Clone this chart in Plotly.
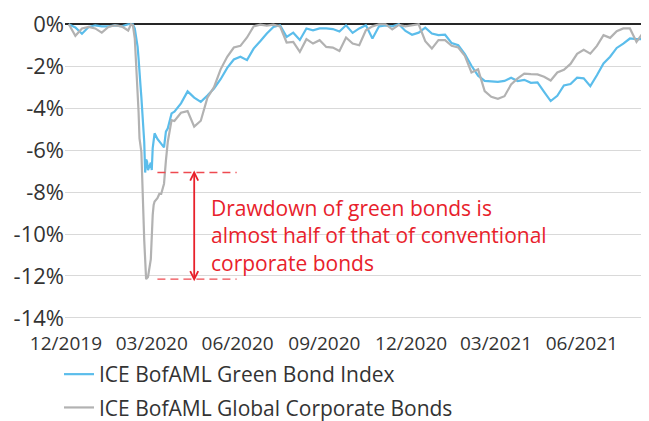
import plotly.graph_objects as go

# ---------------- data ----------------
dates = [
    "2020-01-03", "2020-01-10", "2020-01-17", "2020-01-24", "2020-01-31", "2020-02-07",
    "2020-02-14", "2020-02-21", "2020-02-28", "2020-03-06", "2020-03-09", "2020-03-11",
    "2020-03-13", "2020-03-16", "2020-03-17", "2020-03-18", "2020-03-19", "2020-03-20",
    "2020-03-23", "2020-03-24", "2020-03-25", "2020-03-26", "2020-03-27", "2020-03-30",
    "2020-03-31", "2020-04-01", "2020-04-02", "2020-04-03", "2020-04-06", "2020-04-08",
    "2020-04-10", "2020-04-13", "2020-04-15", "2020-04-17", "2020-04-21", "2020-04-24",
    "2020-05-01", "2020-05-08", "2020-05-15", "2020-05-22", "2020-05-29", "2020-06-05",
    "2020-06-12", "2020-06-19", "2020-06-26", "2020-07-03", "2020-07-10", "2020-07-17",
    "2020-07-24", "2020-07-31", "2020-08-07", "2020-08-14", "2020-08-21", "2020-08-28",
    "2020-09-04", "2020-09-11", "2020-09-18", "2020-09-25", "2020-10-02", "2020-10-09",
    "2020-10-16", "2020-10-23", "2020-10-30", "2020-11-06", "2020-11-13", "2020-11-20",
    "2020-11-27", "2020-12-04", "2020-12-11", "2020-12-18", "2020-12-25", "2021-01-01",
    "2021-01-08", "2021-01-15", "2021-01-22", "2021-01-29", "2021-02-05", "2021-02-12",
    "2021-02-19", "2021-02-26", "2021-03-05", "2021-03-12", "2021-03-19", "2021-03-26",
    "2021-04-02", "2021-04-09", "2021-04-16", "2021-04-23", "2021-04-30", "2021-05-07",
    "2021-05-14", "2021-05-21", "2021-05-28", "2021-06-04", "2021-06-11", "2021-06-18",
    "2021-06-25", "2021-07-02", "2021-07-09", "2021-07-16", "2021-07-23", "2021-07-30",
    "2021-08-06", "2021-08-13", "2021-08-20", "2021-08-27", "2021-09-03",
]

green_bond = [
    0.0, -0.15, -0.45, -0.13, -0.05, -0.1,
    -0.1, -0.05, -0.1, 0.0, 0.0, 0.0,
    -0.2, -1.08, -1.63, -2.1, -2.9, -3.5,
    -5.6, -7.07, -6.45, -6.55, -6.95, -6.6,
    -6.95, -5.9, -5.42, -5.2, -5.47, -5.57,
    -5.68, -5.87, -5.12, -4.96, -4.25, -4.17,
    -3.77, -3.2, -3.5, -3.7, -3.4, -3.06,
    -2.62, -2.08, -1.68, -1.55, -1.71, -1.16,
    -0.81, -0.44, -0.13, -0.05, -0.6, -0.4,
    -0.75, -0.2, -0.29, -0.2, -0.2, -0.23,
    -0.35, -0.05, -0.41, -0.2, -0.05, -0.68,
    -0.1, -0.06, -0.1, 0.0, -0.32, -0.5,
    -0.4, -0.16, -0.44, -0.52, -0.5, -0.9,
    -1.0, -1.42, -1.98, -2.45, -2.7, -2.74,
    -2.75, -2.7, -2.55, -2.71, -2.65, -2.79,
    -2.77, -3.22, -3.66, -3.41, -2.92, -2.85,
    -2.55, -2.58, -2.95, -2.43, -1.87, -1.55,
    -1.13, -0.92, -0.68, -0.71, -0.71,
]

global_corp = [
    0.0, -0.55, -0.2, -0.13, -0.2, -0.4,
    -0.13, -0.05, -0.1, -0.3, 0.0, -0.05,
    -0.68, -3.1, -4.17, -5.44, -5.92, -6.1,
    -10.28, -11.55, -12.15, -12.1, -12.05, -11.2,
    -9.95, -9.09, -8.61, -8.45, -8.29, -8.09,
    -8.09, -7.6, -6.5, -5.6, -4.57, -4.61,
    -4.22, -4.14, -4.88, -4.6, -3.5, -3.0,
    -2.15, -1.55, -1.11, -1.03, -0.63, -0.1,
    -0.02, -0.07, -0.02, -0.1, -0.87, -0.84,
    -1.32, -0.71, -0.92, -0.76, -1.08, -1.11,
    -1.27, -0.63, -0.92, -1.0, -0.29, -0.1,
    0.0, 0.0, -0.25, -0.03, -0.1, -0.05,
    0.0, -0.81, -1.16, -0.76, -0.76, -1.03,
    -1.11, -1.51, -2.3, -2.15, -3.19, -3.46,
    -3.55, -3.43, -2.87, -2.58, -2.35, -2.38,
    -2.39, -2.5, -2.68, -2.3, -2.17, -1.89,
    -1.41, -1.22, -1.4, -1.03, -0.52, -0.65,
    -0.33, -0.2, -0.2, -0.84, -0.4,
]

series_names = ["ICE BofAML Green Bond Index", "ICE BofAML Global Corporate Bonds"]

x_tick_vals = ["2019-12-31", "2020-03-31", "2020-06-30", "2020-09-30",
               "2020-12-31", "2021-03-31", "2021-06-30"]
x_tick_text = ["12/2019", "03/2020", "06/2020", "09/2020", "12/2020", "03/2021", "06/2021"]
y_tick_vals = [0, -2, -4, -6, -8, -10, -12, -14]
y_tick_text = ["0%", "-2%", "-4%", "-6%", "-8%", "-10%", "-12%", "-14%"]

annotation_text = ("Drawdown of green bonds is<br>almost half of that of conventional"
                   "<br>corporate bonds")
arrow_date = "2020-05-15"
dash_start, dash_end = "2020-04-06", "2020-06-29"
green_min = min(green_bond)
corp_min = min(global_corp)

# ---------------- style ----------------
BLUE = "#5BBDEB"
GREY = "#B2B2B2"
RED = "#E8212B"
RED_LIGHT = "#EE4A50"
TXT = "#333333"
FONT = "Open Sans"

# the page body adds an 8px offset, so the figure is 8px smaller than the window
W, H = 641, 413
ML, MR, MT, MB = 57, 4, 11, 102
PW, PH = W - ML - MR, H - MT - MB

fig = go.Figure()
fig.add_trace(go.Scatter(x=dates, y=green_bond, mode="lines", name=series_names[0],
                         line=dict(color=BLUE, width=2.2), legendgroup="a"))
fig.add_trace(go.Scatter(x=dates, y=global_corp, mode="lines", name=series_names[1],
                         line=dict(color=GREY, width=2.2), legendgroup="b"))

shapes = []
for yv in (green_min, corp_min):
    shapes.append(dict(type="line", xref="x", yref="y", x0=dash_start, x1=dash_end,
                       y0=yv, y1=yv, line=dict(color=RED_LIGHT, width=1.4, dash="8px,5px")))
shapes.append(dict(type="line", xref="x", yref="y", x0=arrow_date, x1=arrow_date,
                   y0=green_min, y1=corp_min, line=dict(color=RED, width=1.8)))
shapes.append(dict(type="path", xref="x", yref="y", xsizemode="pixel", ysizemode="pixel",
                   xanchor=arrow_date, yanchor=green_min, path="M-4,-8 L0,0 L4,-8",
                   line=dict(color=RED, width=1.8)))
shapes.append(dict(type="path", xref="x", yref="y", xsizemode="pixel", ysizemode="pixel",
                   xanchor=arrow_date, yanchor=corp_min, path="M-4,8 L0,0 L4,8",
                   line=dict(color=RED, width=1.8)))

fig.update_layout(
    width=W, height=H,
    margin=dict(l=ML, r=MR, t=MT, b=MB, autoexpand=False),
    paper_bgcolor="white", plot_bgcolor="white",
    font=dict(family=FONT, size=20, color=TXT),
    showlegend=True,
    legend=dict(x=(51 - ML) / PW, y=-(346 - (MT + PH)) / PH, xanchor="left", yanchor="top",
                orientation="v", traceorder="grouped", tracegroupgap=3,
                font=dict(family=FONT, size=21, color=TXT),
                bgcolor="rgba(0,0,0,0)"),
    xaxis=dict(type="date", range=["2019-12-30", "2021-09-05"],
               tickvals=x_tick_vals, ticktext=x_tick_text,
               showgrid=False, zeroline=False, showline=False, ticks="",
               automargin=False, ticklabelstandoff=11, ticklabeloverflow="allow",
               tickfont=dict(family=FONT, size=19, color=TXT)),
    yaxis=dict(range=[-14.05, 0.25], tickvals=y_tick_vals, ticktext=y_tick_text,
               showgrid=True, gridcolor="#D9D9D9", gridwidth=1,
               zeroline=True, zerolinecolor="#262626", zerolinewidth=1.6,
               showline=False, ticks="", automargin=False, ticklabeloverflow="allow",
               tickfont=dict(family=FONT, size=22, color=TXT)),
    shapes=shapes,
    annotations=[dict(xref="paper", yref="paper", x=(200.7 - ML) / PW,
                      y=(H - MB - 227) / PH,
                      xanchor="left", yanchor="middle", align="left", showarrow=False,
                      text=annotation_text,
                      font=dict(family=FONT, size=21, color=RED))],
)

fig.write_html("out.html")
